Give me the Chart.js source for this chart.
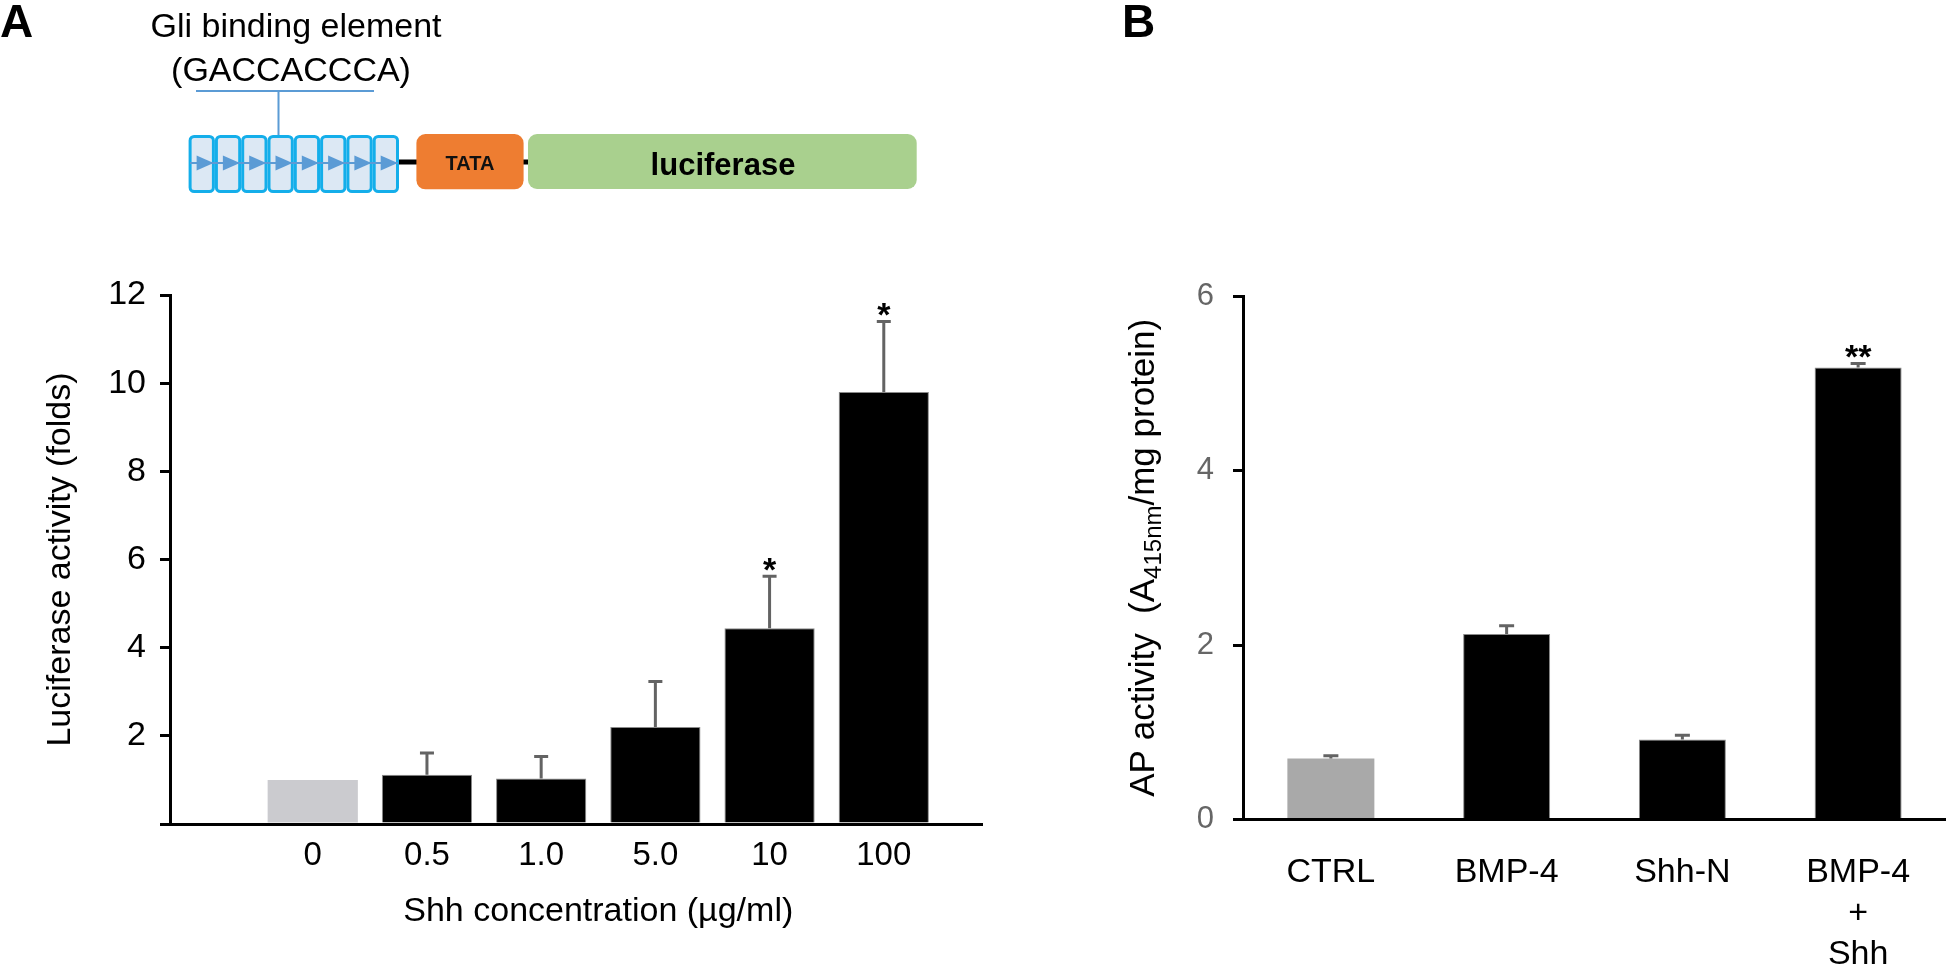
<!DOCTYPE html>
<html><head><meta charset="utf-8">
<script src="https://cdn.jsdelivr.net/npm/chart.js@4.4.1/dist/chart.umd.min.js"></script>
<style>
html,body{margin:0;padding:0;background:#fff;}
#wrap{position:relative;width:1946px;height:966px;overflow:hidden;background:#fff;}
#ca{position:absolute;left:0;top:0;width:1000px;height:966px;}
#cb{position:absolute;left:1000px;top:0;width:946px;height:966px;}
</style></head><body>
<div id="wrap"><canvas id="ca" width="1000" height="966"></canvas><canvas id="cb" width="946" height="966"></canvas></div>
<script>
// ---------- Panel A data ----------
const shhCategories = ['0', '0.5', '1.0', '5.0', '10', '100'];
const luciferaseValues = [1.00, 1.12, 1.03, 2.20, 4.44, 9.80];
const luciferaseErrors = [0, 0.49, 0.50, 1.03, 1.18, 1.60];
const luciferaseSignif = ['', '', '', '', '*', '*'];
const luciferaseYTicks = [0, 2, 4, 6, 8, 10, 12];

// ---------- Panel B data ----------
const apCategories = ['CTRL', 'BMP-4', 'Shh-N', ['BMP-4', '+', 'Shh']];
const apValues = [0.70, 2.125, 0.917, 5.18];
const apErrors = [0.03, 0.095, 0.05, 0.045];
const apSignif = ['', '', '', '**'];
const apYTicks = [0, 2, 4, 6];

const FONT = '"Liberation Sans", Arial, Helvetica, sans-serif';
Chart.defaults.font.family = FONT;
Chart.defaults.color = '#000';

function makeErrorPlugin(values, errors, signif, capW, starOffset) {
  return {
    id: 'errbars',
    afterDatasetsDraw(chart) {
      const ctx = chart.ctx;
      const meta = chart.getDatasetMeta(0);
      const y = chart.scales.y;
      ctx.save();
      meta.data.forEach((bar, i) => {
        const top = y.getPixelForValue(values[i] + errors[i]);
        if (errors[i] > 0) {
          ctx.strokeStyle = '#636363';
          ctx.lineWidth = 3;
          ctx.beginPath();
          ctx.moveTo(bar.x, bar.y);
          ctx.lineTo(bar.x, top);
          ctx.moveTo(bar.x - capW / 2, top);
          ctx.lineTo(bar.x + capW / 2, top);
          ctx.stroke();
        }
        if (signif[i]) {
          ctx.fillStyle = '#000';
          ctx.font = 'bold 34px ' + FONT;
          ctx.textAlign = 'center';
          ctx.textBaseline = 'alphabetic';
          ctx.fillText(signif[i], bar.x, top + starOffset);
        }
      });
      ctx.restore();
    }
  };
}

// ---------- Panel A: promoter diagram + axis title ----------
const decorA = {
  id: 'decorA',
  afterDraw(chart) {
    const ctx = chart.ctx;
    ctx.save();
    ctx.fillStyle = '#000';
    ctx.font = 'bold 46px ' + FONT;
    ctx.textAlign = 'left';
    ctx.textBaseline = 'alphabetic';
    ctx.fillText('A', 0, 37);
    ctx.font = '34px ' + FONT;
    ctx.textAlign = 'center';
    ctx.fillText('Gli binding element', 296, 37);
    ctx.fillText('(GACCACCCA)', 291, 81);
    ctx.strokeStyle = '#5b9bd5';
    ctx.lineWidth = 2;
    ctx.beginPath();
    ctx.moveTo(196, 91); ctx.lineTo(374, 91);
    ctx.moveTo(278.5, 91); ctx.lineTo(278.5, 137);
    ctx.stroke();
    ctx.strokeStyle = '#000';
    ctx.lineWidth = 5;
    ctx.beginPath();
    ctx.moveTo(398, 162); ctx.lineTo(530, 162);
    ctx.stroke();
    const cellW = 26.3, x0 = 188.6;
    for (let k = 0; k < 8; k++) {
      const cx = x0 + k * cellW;
      ctx.beginPath();
      ctx.roundRect(cx + 1.5, 136.5, cellW - 3, 55, 4);
      ctx.fillStyle = '#dce8f4';
      ctx.fill();
      ctx.strokeStyle = '#14aeea';
      ctx.lineWidth = 3;
      ctx.stroke();
    }
    ctx.strokeStyle = '#5b9bd5';
    ctx.lineWidth = 2;
    ctx.beginPath();
    ctx.moveTo(190, 163); ctx.lineTo(398, 163);
    ctx.stroke();
    ctx.fillStyle = '#5b9bd5';
    for (let k = 0; k < 8; k++) {
      const cx = x0 + k * cellW;
      ctx.beginPath();
      ctx.moveTo(cx + 8, 155.5);
      ctx.lineTo(cx + 25, 163);
      ctx.lineTo(cx + 8, 170.5);
      ctx.closePath();
      ctx.fill();
    }
    ctx.beginPath();
    ctx.roundRect(416.4, 134, 107.2, 55.3, 9);
    ctx.fillStyle = '#ee7d31';
    ctx.fill();
    ctx.fillStyle = '#111';
    ctx.font = 'bold 20px ' + FONT;
    ctx.textAlign = 'center';
    ctx.fillText('TATA', 470, 170);
    ctx.beginPath();
    ctx.roundRect(528, 134, 388.7, 55, 9);
    ctx.fillStyle = '#a9d08e';
    ctx.fill();
    ctx.fillStyle = '#000';
    ctx.font = 'bold 31px ' + FONT;
    ctx.fillText('luciferase', 723, 175);
    const xs = chart.scales.x;
    const cx = (xs.getPixelForValue(0) + xs.getPixelForValue(shhCategories.length - 1)) / 2;
    ctx.font = '34px ' + FONT;
    ctx.fillText('Shh concentration (\u00b5g/ml)', cx, 921);
    ctx.restore();
  }
};

new Chart(document.getElementById('ca'), {
  type: 'bar',
  data: {
    datasets: [{
      data: luciferaseValues.map((v, i) => ({ x: i, y: v })),
      backgroundColor: luciferaseValues.map((v, i) => i === 0 ? '#cbcbcf' : '#000'),
      borderColor: luciferaseValues.map((v, i) => i === 0 ? 'rgba(0,0,0,0)' : '#8a8a8a'),
      borderWidth: luciferaseValues.map((v, i) => i === 0 ? 0 : 1),
      categoryPercentage: 1,
      barPercentage: 0.79
    }]
  },
  options: {
    responsive: false,
    maintainAspectRatio: false,
    animation: false,
    devicePixelRatio: 1,
    layout: { padding: { top: 295, left: 0, right: 18, bottom: 0 } },
    plugins: { legend: { display: false }, tooltip: { enabled: false } },
    scales: {
      x: {
        type: 'linear',
        offset: false,
        min: -1.25,
        max: 5.86,
        afterFit: s => { s.height = 142; },
        grid: { display: true, drawOnChartArea: false, drawTicks: false },
        border: { display: true, color: '#000', width: 3 },
        ticks: {
          stepSize: 1,
          includeBounds: false,
          autoSkip: false,
          maxRotation: 0,
          minRotation: 0,
          padding: 12,
          color: '#000',
          font: { size: 33 },
          callback: v => (Number.isInteger(v) && v >= 0 && v < shhCategories.length) ? shhCategories[v] : ''
        }
      },
      y: {
        min: 0,
        max: 12,
        afterFit: s => { s.width = 170; },
        afterBuildTicks: s => { s.ticks = luciferaseYTicks.map(v => ({ value: v })); },
        grid: { display: true, drawOnChartArea: false, drawTicks: true, tickLength: 10, color: '#000', lineWidth: 3 },
        border: { display: true, color: '#000', width: 3 },
        ticks: {
          padding: 14,
          color: '#000',
          font: { size: 34 },
          callback: v => v === 0 ? '' : String(v)
        },
        title: {
          display: true,
          text: 'Luciferase activity (folds)',
          color: '#000',
          font: { size: 34 },
          padding: { top: 40, bottom: 0 }
        }
      }
    }
  },
  plugins: [makeErrorPlugin(luciferaseValues, luciferaseErrors, luciferaseSignif, 14, 5), decorA]
});

// ---------- Panel B ----------
const decorB = {
  id: 'decorB',
  afterDraw(chart) {
    const ctx = chart.ctx;
    ctx.save();
    ctx.fillStyle = '#000';
    ctx.font = 'bold 46px ' + FONT;
    ctx.textAlign = 'left';
    ctx.textBaseline = 'alphabetic';
    ctx.fillText('B', 122, 37);
    const area = chart.chartArea;
    const cy = (area.top + area.bottom) / 2;
    const big = '35px ' + FONT, small = '24px ' + FONT;
    const parts = [
      { t: 'AP activity  (A', f: big, dy: 0 },
      { t: '415nm', f: small, dy: 7 },
      { t: '/mg protein)', f: big, dy: 0 }
    ];
    let total = 0;
    parts.forEach(p => { ctx.font = p.f; p.w = ctx.measureText(p.t).width; total += p.w; });
    ctx.translate(154, cy);
    ctx.rotate(-Math.PI / 2);
    let x = -total / 2;
    parts.forEach(p => {
      ctx.font = p.f;
      ctx.fillText(p.t, x, p.dy);
      x += p.w;
    });
    ctx.restore();
  }
};

new Chart(document.getElementById('cb'), {
  type: 'bar',
  data: {
    labels: apCategories,
    datasets: [{
      data: apValues,
      backgroundColor: apValues.map((v, i) => i === 0 ? '#a9a9a9' : '#000'),
      borderColor: apValues.map((v, i) => i === 0 ? 'rgba(0,0,0,0)' : '#8a8a8a'),
      borderWidth: apValues.map((v, i) => i === 0 ? 0 : 1),
      categoryPercentage: 1,
      barPercentage: 0.495
    }]
  },
  options: {
    responsive: false,
    maintainAspectRatio: false,
    animation: false,
    devicePixelRatio: 1,
    layout: { padding: { top: 296, left: 0, right: 0, bottom: 0 } },
    plugins: { legend: { display: false }, tooltip: { enabled: false } },
    scales: {
      x: {
        afterFit: s => { s.height = 146.5; },
        grid: { display: true, drawOnChartArea: false, drawTicks: false },
        border: { display: true, color: '#000', width: 3 },
        ticks: {
          autoSkip: false,
          maxRotation: 0,
          minRotation: 0,
          padding: 33,
          color: '#000',
          font: { size: 34, lineHeight: 1.2 }
        }
      },
      y: {
        min: 0,
        max: 6,
        afterFit: s => { s.width = 243; },
        afterBuildTicks: s => { s.ticks = apYTicks.map(v => ({ value: v })); },
        grid: { display: true, drawOnChartArea: false, drawTicks: true, tickLength: 10, color: '#000', lineWidth: 3 },
        border: { display: true, color: '#000', width: 3 },
        ticks: {
          padding: 19,
          color: '#666',
          font: { size: 31 },
          callback: v => String(v)
        }
      }
    }
  },
  plugins: [makeErrorPlugin(apValues, apErrors, apSignif, 15, 4), decorB]
});
</script>
</body></html>
